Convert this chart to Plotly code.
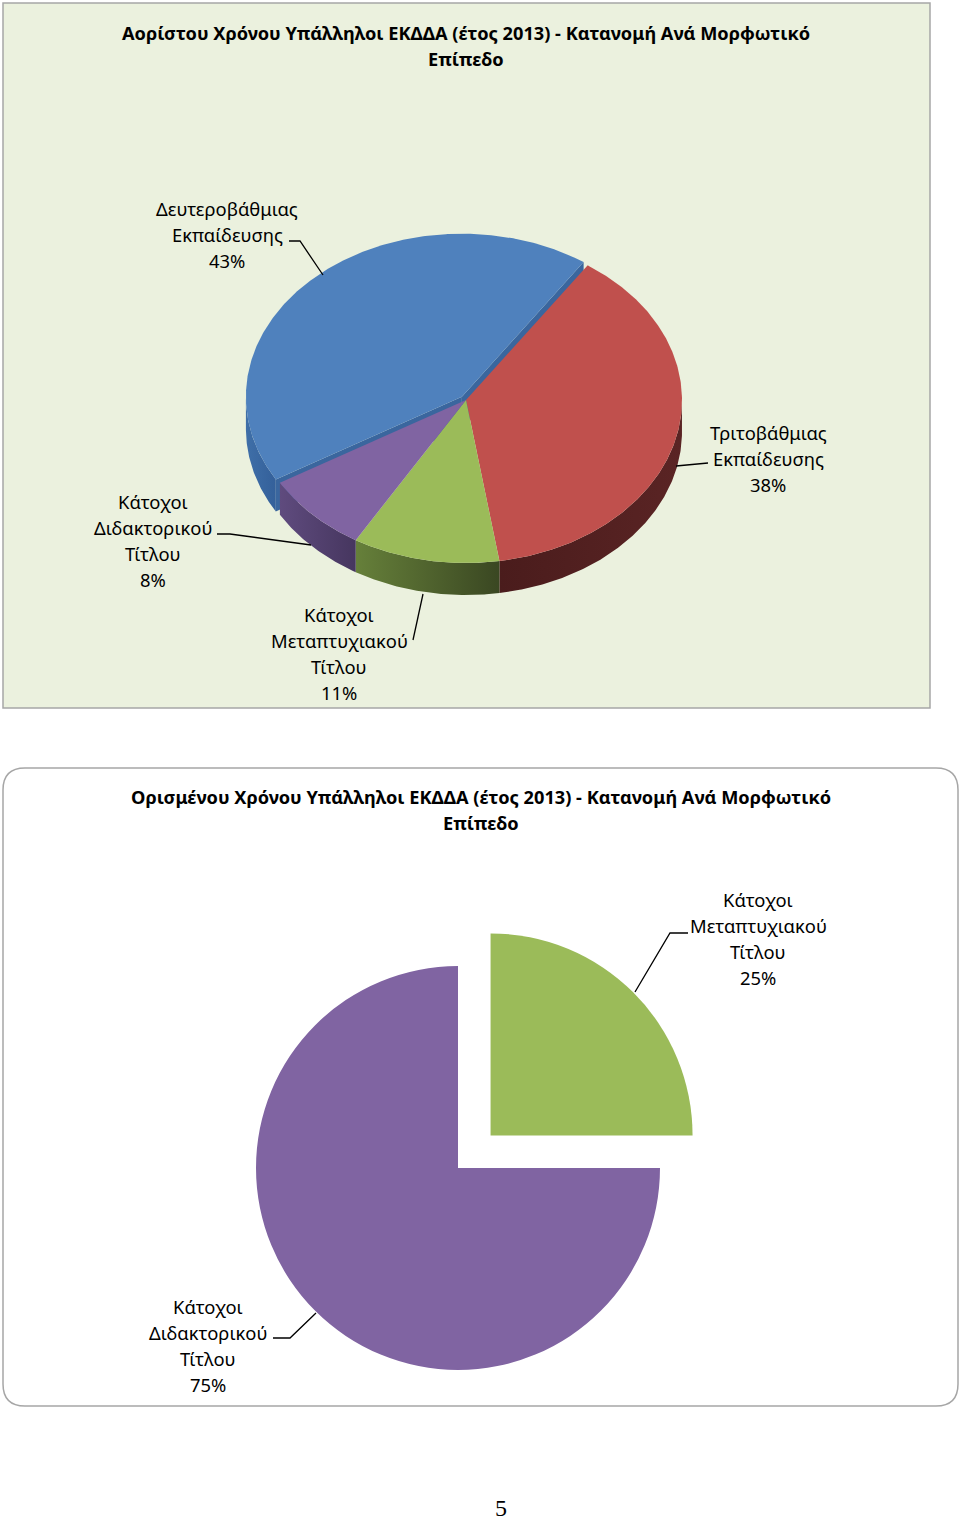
import math
import plotly.graph_objects as go

# ---------------- data ----------------
title_top = ["Αορίστου Χρόνου Υπάλληλοι ΕΚΔΔΑ (έτος 2013) - Κατανομή Ανά Μορφωτικό", "Επίπεδο"]
title_bottom = ["Ορισμένου Χρόνου Υπάλληλοι ΕΚΔΔΑ (έτος 2013) - Κατανομή Ανά Μορφωτικό", "Επίπεδο"]

top_categories = ["Δευτεροβάθμιας Εκπαίδευσης", "Τριτοβάθμιας Εκπαίδευσης",
                  "Κάτοχοι Μεταπτυχιακού Τίτλου", "Κάτοχοι Διδακτορικού Τίτλου"]
top_label_lines = [["Δευτεροβάθμιας", "Εκπαίδευσης"], ["Τριτοβάθμιας", "Εκπαίδευσης"],
                   ["Κάτοχοι", "Μεταπτυχιακού", "Τίτλου"], ["Κάτοχοι", "Διδακτορικού", "Τίτλου"]]
top_values = [43, 38, 11, 8]

bottom_categories = ["Κάτοχοι Μεταπτυχιακού Τίτλου", "Κάτοχοι Διδακτορικού Τίτλου"]
bottom_label_lines = [["Κάτοχοι", "Μεταπτυχιακού", "Τίτλου"], ["Κάτοχοι", "Διδακτορικού", "Τίτλου"]]
bottom_values = [25, 75]

page_number = "5"

# ---------------- style ----------------
W, H = 960, 1520
FONT = "Noto Sans"
LBL_SIZE = 18.4
TITLE_SIZE = 18.2
face_colors = ["#4F81BD", "#C0504D", "#9BBB59", "#8064A2"]
wall_colors = [("#3F6FA8", "#34609A"), ("#4A1C1C", "#5A2424"),
               ("#66803A", "#3A4722"), ("#5F4B7E", "#46365F")]
cut_color = "#3A669E"
bottom_colors = ["#9BBB59", "#8064A2"]

# 3D pie geometry (pixels)
cx, cy, rx, ry, depth = 466, 400, 216, 163, 32
start_t = 210.5           # ellipse parameter angle where the first slice begins
explode = [6, 0, 0, 0]

fig = go.Figure()

def pt(t, off, dz=0):
    r = math.radians(t)
    return cx + rx * math.cos(r) + off[0], cy - ry * math.sin(r) + off[1] + dz

total = sum(top_values)
spans = []
t = start_t
for v in top_values:
    t2 = t - 360.0 * v / total
    spans.append((t, t2))
    t = t2

offsets = []
for (a, b), e in zip(spans, explode):
    m = math.radians((a + b) / 2)
    offsets.append((e * math.cos(m), -e * math.sin(m) * ry / rx))

def arc(a, b, n_per_deg=2):
    n = max(2, int(abs(a - b) * n_per_deg))
    return [a + (b - a) * k / n for k in range(n + 1)]

# radial cut walls of exploded slices
for i, ((a, b), off) in enumerate(zip(spans, offsets)):
    if explode[i] == 0:
        continue
    for ang in (a, b):
        x0, y0 = cx + off[0], cy + off[1]
        x1, y1 = pt(ang, off)
        xs = [x0, x1, x1, x0, x0]
        ys = [y0, y1, y1 + depth, y0 + depth, y0]
        fig.add_trace(go.Scatter(x=xs, y=ys, mode="lines", fill="toself",
                                 fillcolor=cut_color, line=dict(width=0),
                                 hoverinfo="skip", showlegend=False))

# outer walls (front part only)
for i, ((a, b), off) in enumerate(zip(spans, offsets)):
    ts = [tt for tt in arc(a, b) if math.sin(math.radians(tt)) <= 1e-9]
    if len(ts) < 2:
        continue
    top_pts = [pt(tt, off) for tt in ts]
    bot_pts = [pt(tt, off, depth) for tt in reversed(ts)]
    xs = [p[0] for p in top_pts + bot_pts] + [top_pts[0][0]]
    ys = [p[1] for p in top_pts + bot_pts] + [top_pts[0][1]]
    fig.add_trace(go.Scatter(x=xs, y=ys, mode="lines", fill="toself",
                             fillgradient=dict(type="horizontal",
                                               colorscale=[[0, wall_colors[i][0]], [1, wall_colors[i][1]]]),
                             line=dict(width=0), hoverinfo="skip", showlegend=False))

# top faces
for i, ((a, b), off) in enumerate(zip(spans, offsets)):
    pts = [(cx + off[0], cy + off[1])] + [pt(tt, off) for tt in arc(a, b)]
    pts.append(pts[0])
    fig.add_trace(go.Scatter(x=[p[0] for p in pts], y=[p[1] for p in pts], mode="lines",
                             fill="toself", fillcolor=face_colors[i], line=dict(width=0),
                             name=top_categories[i], text=[f"{top_values[i]}%"] * len(pts),
                             hoverinfo="name+text", showlegend=False))

# bottom 2D pie (exploded)
pull = 0.228
pcx, pcy, pr = 458, 1168, 202
half = pr * (1 + pull)
fig.add_trace(go.Pie(values=bottom_values, labels=bottom_categories, sort=False,
                     direction="clockwise", rotation=0, pull=[pull, 0],
                     marker=dict(colors=bottom_colors, line=dict(width=0)),
                     textinfo="none", showlegend=False,
                     domain=dict(x=[(pcx - half) / W, (pcx + half) / W],
                                 y=[1 - (pcy + half) / H, 1 - (pcy - half) / H])))

# ---------------- shapes (boxes & leader lines) ----------------
shapes = [
    dict(type="rect", xref="x", yref="y", x0=3, y0=3, x1=930, y1=708,
         fillcolor="#EBF1DE", line=dict(color="#A6A6A6", width=1.5), layer="below"),
]
r_c = 22
x0b, y0b, x1b, y1b = 3, 768, 958, 1406
path = (f"M {x0b + r_c},{y0b} L {x1b - r_c},{y0b} Q {x1b},{y0b} {x1b},{y0b + r_c} "
        f"L {x1b},{y1b - r_c} Q {x1b},{y1b} {x1b - r_c},{y1b} "
        f"L {x0b + r_c},{y1b} Q {x0b},{y1b} {x0b},{y1b - r_c} "
        f"L {x0b},{y0b + r_c} Q {x0b},{y0b} {x0b + r_c},{y0b} Z")
shapes.append(dict(type="path", xref="x", yref="y", path=path, fillcolor="white",
                   line=dict(color="#A6A6A6", width=1.5), layer="below"))

leaders = [
    [(289, 241), (300, 241), (323, 275)],
    [(708, 463), (676, 466)],
    [(413, 640), (423, 594)],
    [(217, 534), (230, 534), (311, 545)],
    [(688, 933), (670, 933), (635, 992)],
    [(273, 1338), (290, 1338), (316, 1313)],
]
for ld in leaders:
    p = "M " + " L ".join(f"{x},{y}" for x, y in ld)
    shapes.append(dict(type="path", xref="x", yref="y", path=p,
                       line=dict(color="black", width=1.3), layer="above"))

# ---------------- text ----------------
annotations = []

def text_block(lines, xc, y_first, size=LBL_SIZE, bold=False, step=26):
    for k, ln in enumerate(lines):
        annotations.append(dict(x=xc, y=y_first + k * step, xref="x", yref="y",
                                text=f"<b>{ln}</b>" if bold else ln, showarrow=False,
                                xanchor="center", yanchor="middle",
                                font=dict(family=FONT, size=size, color="black")))

text_block(title_top, 466, 33, size=TITLE_SIZE, bold=True)
text_block(title_bottom, 481, 797, size=TITLE_SIZE, bold=True)

top_label_pos = [(227, 208), (768, 432), (339, 614), (153, 501)]
for lines, v, (x, y) in zip(top_label_lines, top_values, top_label_pos):
    text_block(lines + [f"{round(100 * v / total)}%"], x, y)

btotal = sum(bottom_values)
bottom_label_pos = [(758, 899), (208, 1306)]
for lines, v, (x, y) in zip(bottom_label_lines, bottom_values, bottom_label_pos):
    text_block(lines + [f"{round(100 * v / btotal)}%"], x, y)

annotations.append(dict(x=501, y=1508, xref="x", yref="y", text=page_number, showarrow=False,
                        xanchor="center", yanchor="middle",
                        font=dict(family="Liberation Serif", size=24, color="black")))

fig.update_layout(
    width=W, height=H, margin=dict(l=0, r=0, t=0, b=0),
    paper_bgcolor="white", plot_bgcolor="rgba(0,0,0,0)",
    xaxis=dict(range=[0, W], visible=False, fixedrange=True),
    yaxis=dict(range=[H, 0], visible=False, fixedrange=True),
    shapes=shapes, annotations=annotations, showlegend=False,
)

fig.write_html("out.html", config={"displayModeBar": False},
               post_script="document.body.style.margin='0';document.body.style.overflow='hidden';")
